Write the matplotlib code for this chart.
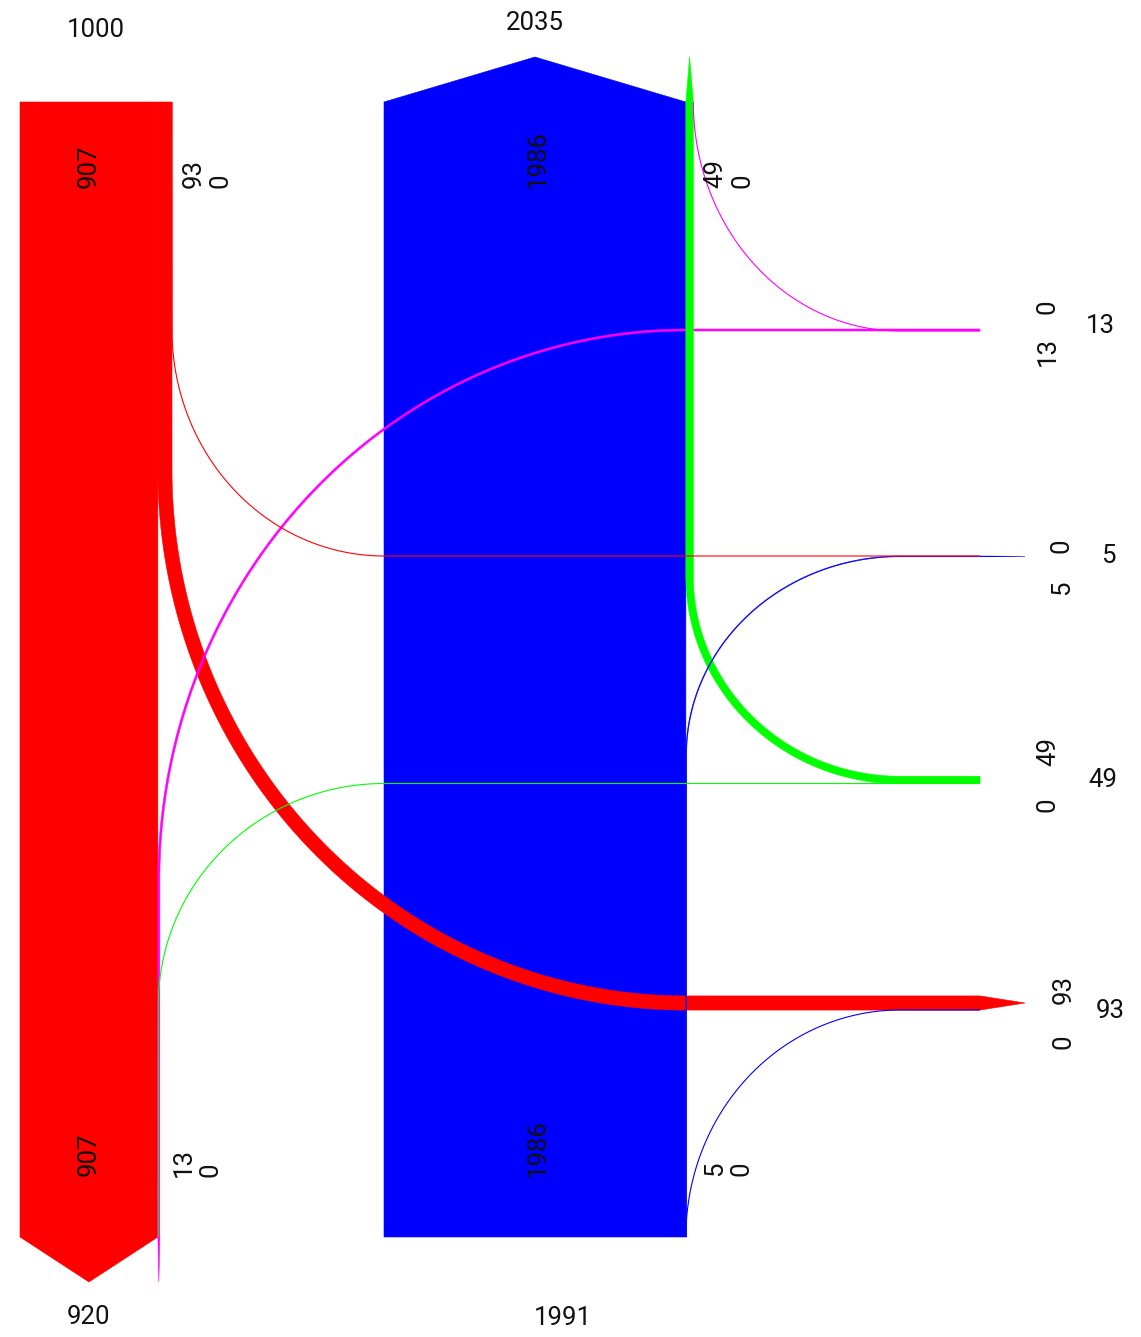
import numpy as np
import matplotlib
matplotlib.use('Agg')
import matplotlib.pyplot as plt
from matplotlib.patches import Polygon

# values
red_in, red_out, red_stay = 1000, 920, 907
blue_in, blue_out, blue_stay = 2035, 1991, 1986

# side flows (red, magenta, green, blue), one zero-width partner each
flow_vals = [93, 0, 13, 0, 49, 0, 5, 0]
flow_cols = ['red', 'red', 'magenta', 'magenta', 'lime', 'lime', 'blue', 'blue']

# labels beside the columns and at the right-hand rows
red_top_pair = '93\n0'
red_bot_pair = '13\n0'
blue_top_pair = '49\n0'
blue_bot_pair = '5\n0'
row_totals = ['13', '5', '49', '93']
row_lower = ['13', '5', '0', '0']
row_upper = ['0', '0', '49', '93']

# layout (pixels)
S = 0.152            # pixels per unit
RED_X, BLUE_X = 20, 384
TOP, BOT = 102, 1237
HEAD = 45
END_X, TIP_X = 980, 1025


def edge(x, y0, cx, cy, y1, x1, n=150):
    # straight run to cy, quarter ellipse round to (cx, y1), then out to x1
    t = np.linspace(np.pi, np.pi / 2, n)
    ex = cx + (cx - x) * np.cos(t)
    ey = cy + (y1 - cy) * np.sin(t)
    xs = np.concatenate([[x], ex, [x1]])
    ys = np.concatenate([[y0], ey, [y1]])
    return xs, ys


def flow(ax, val, col, x, d, cy, cx, row, start_tip=None, end_tip=None):
    w = val * S
    y0 = TOP if d > 0 else BOT
    if w == 0:
        xs, ys = edge(x, y0, cx, cy, row, END_X)
        ax.plot(xs, ys, color=col, lw=0.8, solid_capstyle='butt')
        return
    ax_, ay_ = edge(x, y0, cx, cy, row + d * w / 2, END_X)
    bx_, by_ = edge(x + w, y0, cx, cy, row - d * w / 2, END_X)
    pts = list(zip(ax_, ay_))
    if end_tip is not None:
        pts.append((end_tip, row))
    pts += list(zip(bx_[::-1], by_[::-1]))
    if start_tip is not None:
        pts.append((x + w / 2, start_tip))
    ax.add_patch(Polygon(pts, closed=True, fc=col, ec=col, lw=0.4))


def main():
    fig = plt.figure(figsize=(11.41, 13.37), dpi=100)
    ax = fig.add_axes([0, 0, 1, 1])
    ax.set_xlim(0, 1141)
    ax.set_ylim(1337, 0)
    ax.axis('off')

    rw = red_stay * S
    bw = blue_stay * S
    ax.add_patch(Polygon([(RED_X, TOP), (RED_X + rw, TOP), (RED_X + rw, BOT),
                          (RED_X + rw / 2, BOT + HEAD), (RED_X, BOT)],
                         fc='red', ec='red', lw=0.4))
    ax.add_patch(Polygon([(BLUE_X, TOP), (BLUE_X + bw / 2, TOP - HEAD), (BLUE_X + bw, TOP),
                          (BLUE_X + bw, BOT), (BLUE_X, BOT)],
                         fc='blue', ec='blue', lw=0.4))

    red_edge = RED_X + rw
    blue_edge = BLUE_X + bw
    # red
    flow(ax, flow_vals[0], flow_cols[0], red_edge, 1, 470, blue_edge, 1003, end_tip=TIP_X)
    flow(ax, flow_vals[1], flow_cols[1], RED_X + red_in * S, 1, 330, BLUE_X, 556)
    # magenta
    flow(ax, flow_vals[2], flow_cols[2], red_edge, -1, 880, blue_edge, 330, start_tip=BOT + HEAD)
    flow(ax, flow_vals[3], flow_cols[3], blue_edge + flow_vals[4] * S, 1, TOP, 900, 331)
    # green
    flow(ax, flow_vals[4], flow_cols[4], blue_edge, 1, 576, 900, 780, start_tip=TOP - HEAD)
    flow(ax, flow_vals[5], flow_cols[5], red_edge + 0.4, -1, 1005, BLUE_X, 783.5)
    # blue
    flow(ax, flow_vals[6], flow_cols[6], blue_edge, -1, 755, 900, 556.4, end_tip=TIP_X)
    flow(ax, flow_vals[7], flow_cols[7], blue_edge, -1, BOT, 900, 1010)

    kw = dict(fontsize=18.5, color='#111111', family=['Roboto', 'DejaVu Sans'], fontweight='normal')
    ax.text(96, 30, str(red_in), ha='center', va='center', **kw)
    ax.text(89, 1317, str(red_out), ha='center', va='center', **kw)
    ax.text(535, 23, str(blue_in), ha='center', va='center', **kw)
    ax.text(563, 1318, str(blue_out), ha='center', va='center', **kw)

    rot = dict(rotation=90, ha='center', va='bottom', multialignment='left', linespacing=1.15)
    ax.text(89, 188, str(red_stay), **rot, **kw)
    ax.text(89, 1176, str(red_stay), **rot, **kw)
    ax.text(538, 188, str(blue_stay), **rot, **kw)
    ax.text(538, 1177, str(blue_stay), **rot, **kw)
    ax.text(207, 188, red_top_pair, **rot, **kw)
    ax.text(197, 1177, red_bot_pair, **rot, **kw)
    ax.text(729, 188, blue_top_pair, **rot, **kw)
    ax.text(728, 1176, blue_bot_pair, **rot, **kw)

    # right-hand row labels
    lab_x = [1048, 1062, 1048, 1064]
    low_y = [352, 588, 805, 1042]
    up_y = [307, 546, 752, 990]
    tot_pos = [(1100, 326), (1108, 556), (1103, 780), (1110, 1011)]
    for i in range(4):
        ax.text(lab_x[i], low_y[i], row_lower[i], rotation=90, ha='center', va='center', **kw)
        ax.text(lab_x[i], up_y[i], row_upper[i], rotation=90, ha='center', va='center', **kw)
        ax.text(tot_pos[i][0], tot_pos[i][1], row_totals[i], ha='center', va='center', **kw)

    fig.savefig('out.png', dpi=100, facecolor='white')


if __name__ == "__main__":
    main()
